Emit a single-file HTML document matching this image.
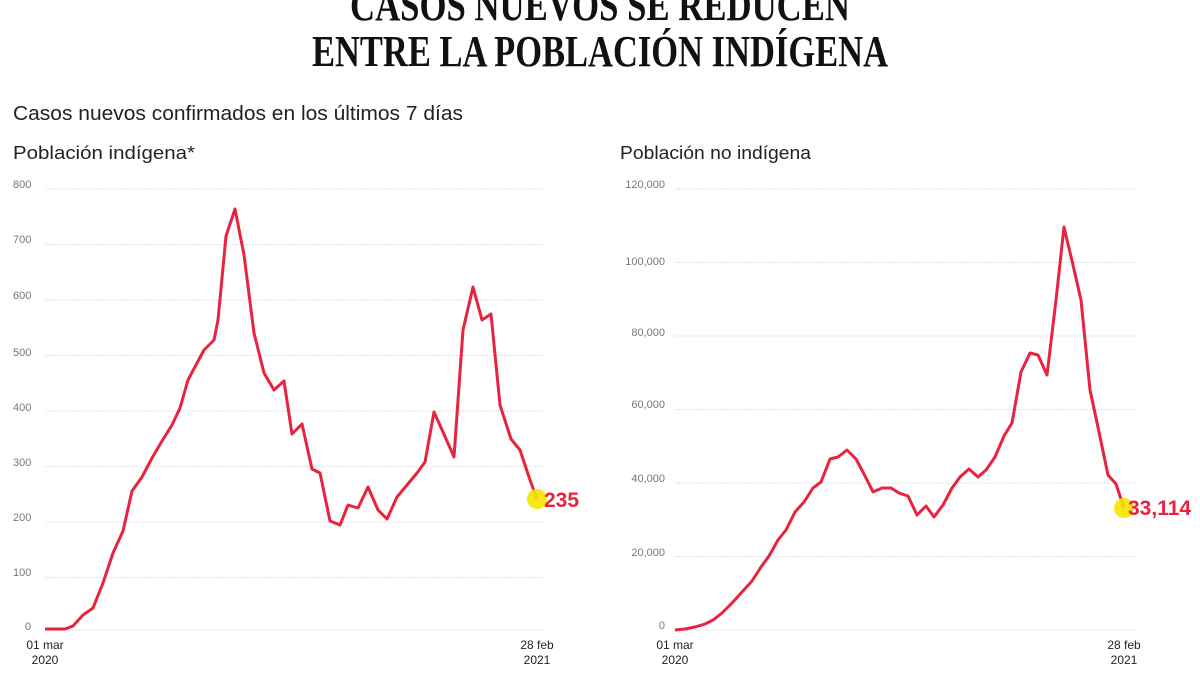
<!DOCTYPE html>
<html><head><meta charset="utf-8"><style>
html,body{margin:0;padding:0;background:#fff;width:1200px;height:675px;overflow:hidden}
svg{display:block}
.t{font-family:"Liberation Serif",serif;font-weight:bold;fill:#111}
.s{font-family:"Liberation Sans",sans-serif;fill:#222}
.ax{font-family:"Liberation Sans",sans-serif;fill:#777;font-size:11px}
.g{stroke:#e2e2e2;stroke-width:1;stroke-dasharray:2 1}
.ln{fill:none;stroke:#e8233f;stroke-width:3;stroke-linejoin:round}
.v{font-family:"Liberation Sans",sans-serif;font-weight:bold;fill:#e8233f;font-size:21px}
</style></head><body>
<svg width="1200" height="675" viewBox="0 0 1200 675">
<text class="t" x="600" y="20" text-anchor="middle" font-size="44" textLength="500" lengthAdjust="spacingAndGlyphs">CASOS NUEVOS SE REDUCEN</text>
<text class="t" x="600" y="66" text-anchor="middle" font-size="44" textLength="576" lengthAdjust="spacingAndGlyphs">ENTRE LA POBLACIÓN INDÍGENA</text>
<text class="s" x="13" y="120" font-size="20" textLength="450" lengthAdjust="spacingAndGlyphs">Casos nuevos confirmados en los últimos 7 días</text>
<text class="s" x="13" y="159" font-size="18" textLength="182" lengthAdjust="spacingAndGlyphs">Población indígena*</text>
<text class="s" x="620" y="159" font-size="18" textLength="191" lengthAdjust="spacingAndGlyphs">Población no indígena</text>

<g>
<line class="g" x1="45" x2="545" y1="189" y2="189"/><line class="g" x1="45" x2="545" y1="244.5" y2="244.5"/><line class="g" x1="45" x2="545" y1="300" y2="300"/><line class="g" x1="45" x2="545" y1="355.5" y2="355.5"/><line class="g" x1="45" x2="545" y1="411" y2="411"/><line class="g" x1="45" x2="545" y1="466.5" y2="466.5"/><line class="g" x1="45" x2="545" y1="522" y2="522"/><line class="g" x1="45" x2="545" y1="577.5" y2="577.5"/><line class="g" x1="45" x2="545" y1="630" y2="630"/>
<text class="ax" x="13" y="188">800</text><text class="ax" x="13" y="243">700</text><text class="ax" x="13" y="299">600</text><text class="ax" x="13" y="356">500</text><text class="ax" x="13" y="411">400</text><text class="ax" x="13" y="466">300</text><text class="ax" x="13" y="521">200</text><text class="ax" x="13" y="576">100</text><text class="ax" x="25" y="630">0</text>
<text class="s" x="45" y="649" font-size="12" text-anchor="middle">01 mar</text><text class="s" x="45" y="664" font-size="12" text-anchor="middle">2020</text>
<text class="s" x="537" y="649" font-size="12" text-anchor="middle">28 feb</text><text class="s" x="537" y="664" font-size="12" text-anchor="middle">2021</text>
<polyline class="ln" points="45,629 55,629 65,629 73,626 83,615 93,608 103,583 113,553 123,531 132,491 142,477 152,458 162,441 172,425 180,408 188,380 197,363 204,350 214,340 218,320 226,236 235,209 244,255 254,333 264,373 274,390 284,381 292,434 302,424 312,469 320,473 330,521 340,525 348,505 358,508 368,487 378,510 387,519 397,497 407,485 417,473 425,462 434,412 443,432 454,457 463,330 473,287 482,320 491,314 500,405 511,439 520,450 530,480 537,499"/>
<circle cx="537" cy="499" r="10" fill="#f6e300" opacity="0.9"/>
<text class="v" x="544" y="507">235</text>
</g>

<g>
<line class="g" x1="675" x2="1135" y1="189" y2="189"/><line class="g" x1="675" x2="1135" y1="262.5" y2="262.5"/><line class="g" x1="675" x2="1135" y1="336" y2="336"/><line class="g" x1="675" x2="1135" y1="409.5" y2="409.5"/><line class="g" x1="675" x2="1135" y1="483" y2="483"/><line class="g" x1="675" x2="1135" y1="556.5" y2="556.5"/><line class="g" x1="675" x2="1135" y1="630" y2="630"/>
<text class="ax" x="665" y="188" text-anchor="end">120,000</text><text class="ax" x="665" y="265" text-anchor="end">100,000</text><text class="ax" x="665" y="336" text-anchor="end">80,000</text><text class="ax" x="665" y="408" text-anchor="end">60,000</text><text class="ax" x="665" y="482" text-anchor="end">40,000</text><text class="ax" x="665" y="556" text-anchor="end">20,000</text><text class="ax" x="665" y="629" text-anchor="end">0</text>
<text class="s" x="675" y="649" font-size="12" text-anchor="middle">01 mar</text><text class="s" x="675" y="664" font-size="12" text-anchor="middle">2020</text>
<text class="s" x="1124" y="649" font-size="12" text-anchor="middle">28 feb</text><text class="s" x="1124" y="664" font-size="12" text-anchor="middle">2021</text>
<polyline class="ln" points="675,630 685,629 695,627 705,624 713,620 722,613 732,603 742,592 752,581 761,567 769,556 778,540 786,530 795,512 804,502 813,488 821,482 830,459 838,457 847,450 856,459 864,474 873,492 882,488 891,488 899,493 908,496 917,515 926,506 934,517 943,505 952,488 960,477 969,469 978,477 986,470 995,457 1004,436 1012,423 1021,372 1030,353 1038,355 1047,375 1056,300 1064,227 1073,265 1081,300 1090,390 1099,432 1108,475 1116,484 1124,508"/>
<circle cx="1124" cy="508" r="10" fill="#f6e300" opacity="0.9"/>
<text class="v" x="1128" y="515">33,114</text>
</g>
</svg>
</body></html>
